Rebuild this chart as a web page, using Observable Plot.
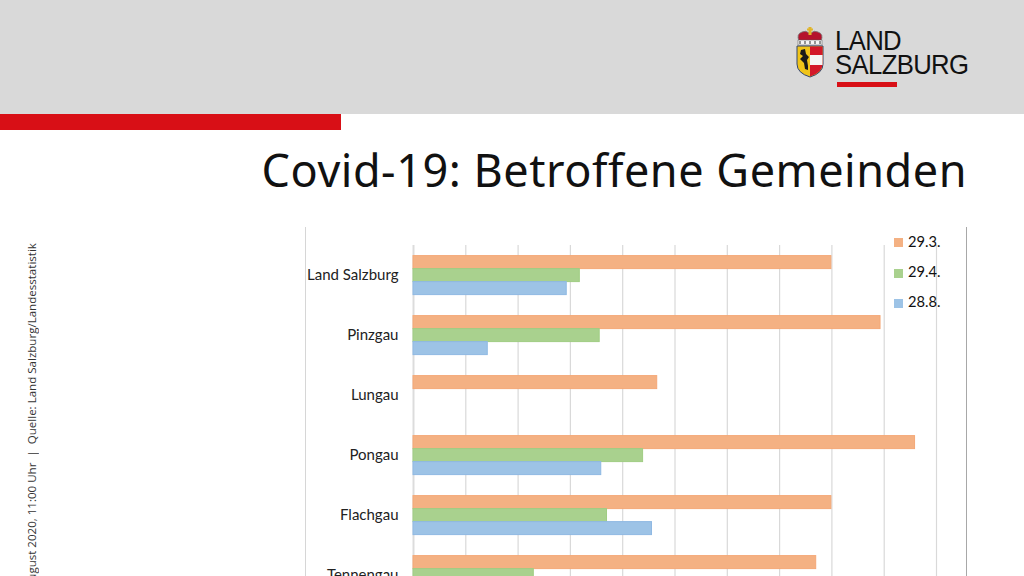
<!DOCTYPE html>
<html lang="de"><head><meta charset="utf-8">
<script src="https://cdn.jsdelivr.net/npm/d3@7"></script>
<script src="https://cdn.jsdelivr.net/npm/@observablehq/plot@0.6"></script>
<style>
html,body{margin:0;padding:0;width:1024px;height:576px;overflow:hidden;background:#fff}
#page{position:relative;width:1024px;height:576px;overflow:hidden}
#page>*{position:absolute}
#header{left:0;top:0;width:1024px;height:114px;background:#d9d9d9}
#strip{left:0;top:114px;width:341px;height:16px;background:#d80f16}
#title{right:57px;top:139px;font:45px "Noto Sans",sans-serif;color:#111;white-space:nowrap;letter-spacing:.53px}
.frame{top:227px;height:349px;width:1px}
#side{left:24px;top:243px;font:11.55px "Open Sans",sans-serif;color:#333;white-space:nowrap;writing-mode:vertical-rl;transform:rotate(180deg);height:400px;text-align:end}
#chart{left:0;top:0}
.lg{left:894px;width:60px;height:14px;font:14.7px Lato,sans-serif;color:#111;line-height:14px}
.lg i{display:inline-block;width:9px;height:9px;margin-right:5px;vertical-align:-0.5px}
#logoT{left:835px;top:29px;font:27.5px/24.2px "Liberation Sans",sans-serif;color:#111;letter-spacing:-.7px;white-space:nowrap;transform:scaleX(.935);transform-origin:left top}
#logoB{left:837px;top:82px;width:60px;height:5px;background:#d80f16}
#crest{left:795px;top:26px}
</style></head><body>
<div id="page">
<div id="header"></div><div id="strip"></div>
<div id="title">Covid-19: Betroffene Gemeinden</div>
<div class="frame" style="left:305px;background:#d6d6d6"></div>
<div class="frame" style="left:966px;background:#a8a8a8"></div>
<div id="side">August 2020, 11:00 Uhr&nbsp; | &nbsp;Quelle: Land Salzburg/Landesstatistik</div>
<div id="chart"></div>
<div id="legend"></div>
<svg id="crest" width="30" height="52" viewBox="0 0 30 52">
<path d="M4 15 Q1 8 7 6 Q11 4 14 7 L15 5 L16 7 Q19 4 23 6 Q29 8 26 15 Z" fill="#b5122c" stroke="#777" stroke-width=".8"/>
<rect x="13.5" y="1" width="3" height="8" fill="#e0b52a"/><rect x="12" y="2.5" width="6" height="2" fill="#e0b52a"/>
<rect x="3" y="14" width="24" height="5" fill="#f4f4f4" stroke="#555" stroke-width=".5"/>
<path d="M5 15v3M10 15v3M15 15v3M20 15v3M25 15v3" stroke="#333" stroke-width="1"/>
<path d="M2 20 H28 V38 Q28 47 15 51 Q2 47 2 38 Z" fill="#f0c419" stroke="#33466e" stroke-width="1"/>
<path d="M15 20.5 H27.5 V38 Q27.5 46.5 15 50.5 Z" fill="#d3182a"/><rect x="15" y="29" width="12.5" height="10" fill="#f5f5f5"/>
<path d="M6 24 L10 23 L11 28 L14 31 L12 34 L13 40 L13 44 L10 43 L9 37 L5 33 L8 30 L5 28 Z" fill="#1a1a1a"/>
</svg>
<div id="logoT">LAND<br>SALZBURG</div><div id="logoB"></div>
</div>
<script>
const regions = ["Land Salzburg","Pinzgau","Lungau","Pongau","Flachgau","Tennengau"];
const seriesNames = ["29.3.","29.4.","28.8."];
const values293 = [79.9,89.3,46.6,95.9,79.9,77];
const values294 = [31.8,35.6,0,43.9,37,23];
const values288 = [29.3,14.2,0,35.9,45.6,null];
const gridTicks = [0,10,20,30,40,50,60,70,80,90,100];
const fills = ["#f4b183","#a9d18e","#9dc3e6"];
const strokes = ["#f4a877","#a0cd83","#8fb9e3"];
const allValues = [values293,values294,values288];
const rows = seriesNames.flatMap((s,i)=>regions.map((r,j)=>({region:r,series:s,value:allValues[i][j]}))).filter(d=>d.value);
const chart = Plot.plot({
  width:1024,height:606,marginLeft:413,marginRight:88,marginTop:243.4,marginBottom:0,
  style:{background:"transparent"},
  x:{domain:[0,100],axis:null},
  y:{domain:seriesNames,axis:null,paddingInner:0,paddingOuter:0.77},
  fy:{domain:regions,padding:0,axis:null},
  color:{domain:seriesNames,range:fills},
  marks:[
    Plot.ruleX(gridTicks,{stroke:d=>d===0?"#dcdcdc":"#d9d9d9",strokeWidth:d=>d===0?2:1.2}),
    Plot.barX(rows,{x:"value",y:"series",fy:"region",fill:"series",inset:0,stroke:d=>strokes[seriesNames.indexOf(d.series)],strokeWidth:1}),
    Plot.axisFy({anchor:"left",tickSize:0,tickPadding:15,label:null,fontSize:15,fontFamily:"Lato, sans-serif",color:"#222",dy:-0.4})
  ]
});
document.getElementById("chart").append(chart);
const lg=document.getElementById("legend");
seriesNames.forEach((s,i)=>{const d=document.createElement("div");d.className="lg";d.style.position="absolute";d.style.top=[233.5,264,294][i]+"px";d.innerHTML=`<i style="background:${fills[i]}"></i>${s}`;lg.append(d);});
</script>
</body></html>
